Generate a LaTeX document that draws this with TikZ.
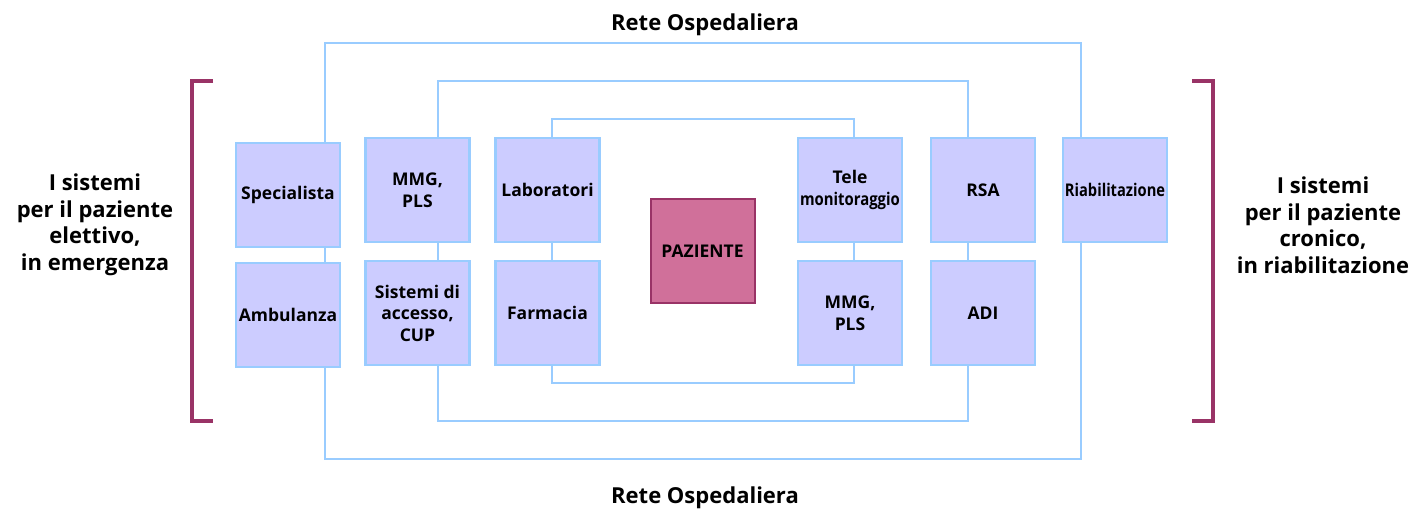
\documentclass[tikz,border=0pt]{standalone}
\usepackage{fontspec}
\setmainfont{Open Sans}
\usepackage{xcolor}
\usetikzlibrary{positioning, backgrounds}

\definecolor{boxfill}{HTML}{CCCCFF}
\definecolor{boxline}{HTML}{99CCFF}
\definecolor{pazfill}{HTML}{D0709A}
\definecolor{pazline}{HTML}{993366}

\tikzset{
  block/.style={rectangle, draw=boxline, fill=boxfill, line width=2.5pt,
    minimum width=104pt, minimum height=104pt, align=center, inner sep=1pt,
    font=\fontsize{17.5}{21.5}\selectfont\bfseries},
  center/.style={block, draw=pazline, fill=pazfill, line width=2pt},
  link/.style={draw=boxline, line width=2pt},
  bracket/.style={draw=pazline, line width=3.5pt},
  side/.style={align=center, font=\fontsize{22}{26.5}\selectfont\bfseries}
}

\begin{document}
\begin{tikzpicture}[x=1pt, y=-1pt]
      \useasboundingbox (0,0) rectangle (1415,511);

      \node[block] (spec) at (288,195) {Specialista};
      \node[block] (amb) at (288,315) {Ambulanza};
      \node[block] (mmgA) at (417.5,190) {MMG,\\PLS};
      \node[block] (sis) at (417.5,313) {Sistemi di\\accesso,\\CUP};
      \node[block] (lab) at (547.5,190) {Laboratori};
      \node[block] (farm) at (547.5,313) {Farmacia};
      \node[center] (paz) at (702.5,251) {PAZIENTE};
      \node[block] (tele) at (850,190) {Tele\\\scalebox{0.85}[1]{monitoraggio}};
      \node[block] (mmgB) at (850,313) {MMG,\\PLS};
      \node[block] (rsa) at (983,190) {RSA};
      \node[block] (adi) at (983,313) {ADI};
      \node[block] (riab) at (1115,190) {\scalebox{0.84}[1]{Riabilitazione}};

      \coordinate (ringA-nw) at (325,43);
      \coordinate (ringA-se) at (1081,459);
      \coordinate (ringB-nw) at (438,81);
      \coordinate (ringB-se) at (968,421);
      \coordinate (ringC-nw) at (552,119);
      \coordinate (ringC-se) at (854,383);

      \begin{pgfonlayer}{background}
        \draw[link] (ringA-nw) rectangle (ringA-se);
        \draw[link] (ringB-nw) rectangle (ringB-se);
        \draw[link] (ringC-nw) rectangle (ringC-se);
      \end{pgfonlayer}

      \coordinate (brL-t) at (213,81);
      \coordinate (brL-b) at (213,421);
      \coordinate (brR-t) at (1192,81);
      \coordinate (brR-b) at (1192,421);
      \draw[bracket] (brL-t) -- ++(-21,0) |- (brL-b);
      \draw[bracket] (brR-t) -- ++(21,0) |- (brR-b);

      \node[side] (left) at (95,225) {I sistemi\\per il paziente\\elettivo,\\in emergenza};
      \node[side] (right) at (1323,225) {I sistemi\\per il paziente\\cronico,\\in riabilitazione};
      \node[side] (top) at (705,25) {Rete Ospedaliera};
      \node[side] (bottom) at (705,498) {Rete Ospedaliera};

    \end{tikzpicture}
\end{document}
